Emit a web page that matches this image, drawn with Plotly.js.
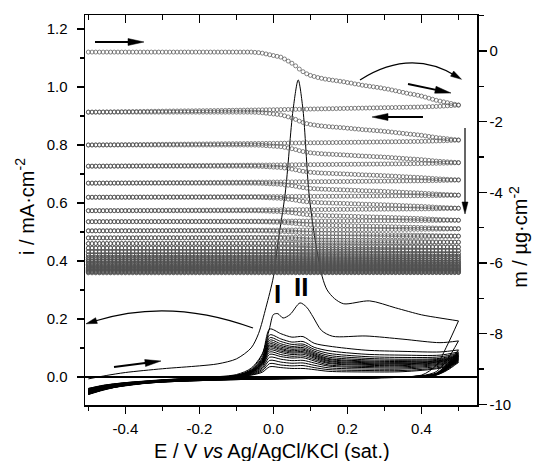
<!DOCTYPE html>
<html><head><meta charset="utf-8">
<script src="https://cdn.plot.ly/plotly-3.0.1.min.js"></script>
<style>html,body{margin:0;padding:0;background:#fff}</style>
</head><body><div id="chart" style="width:539px;height:461px"></div>
<script>
// ---------- mass (EQCM) data, right axis ----------
const massE = [
-0.50,-0.49,-0.48,-0.47,-0.46,-0.45,-0.44,-0.43,-0.42,-0.41,
-0.40,-0.39,-0.38,-0.37,-0.36,-0.35,-0.34,-0.33,-0.32,-0.31,
-0.30,-0.29,-0.28,-0.27,-0.26,-0.25,-0.24,-0.23,-0.22,-0.21,
-0.20,-0.19,-0.18,-0.17,-0.16,-0.15,-0.14,-0.13,-0.12,-0.11,
-0.10,-0.09,-0.08,-0.07,-0.06,-0.05,-0.04,-0.03,-0.02,-0.01,
0.00,0.01,0.02,0.03,0.04,0.05,0.06,0.07,0.08,0.09,
0.10,0.11,0.12,0.13,0.14,0.15,0.16,0.17,0.18,0.19,
0.20,0.21,0.22,0.23,0.24,0.25,0.26,0.27,0.28,0.29,
0.30,0.31,0.32,0.33,0.34,0.35,0.36,0.37,0.38,0.39,
0.40,0.41,0.42,0.43,0.44,0.45,0.46,0.47,0.48,0.49,
0.50];
// fraction of a cycle's forward-scan mass loss reached at each potential (read from the first cycle)
const massForwardShape = [
0,0,0,0,0,0,0,0,0,0,
0,0,0,0,0,0,0,0,0,0,
0,0,0,0,0,0,0,0,0,0,
0,0,0,0,0,0,0,0,0,0,
0,0,0,0,0,0.005,0.01,0.02,0.035,0.05,
0.065,0.08,0.095,0.13,0.17,0.21,0.26,0.32,0.37,0.41,
0.44,0.46,0.48,0.495,0.51,0.52,0.53,0.54,0.55,0.56,
0.575,0.585,0.60,0.61,0.625,0.635,0.645,0.655,0.665,0.675,
0.69,0.70,0.715,0.73,0.745,0.76,0.775,0.79,0.80,0.815,
0.83,0.85,0.87,0.89,0.91,0.925,0.94,0.955,0.97,0.985,
1.0];
// fraction of the reverse-scan mass loss reached at each potential (scan runs 0.5 -> -0.5)
const massReverseShape = [
1.0,0.993,0.986,0.979,0.972,0.965,0.958,0.951,0.944,0.937,
0.93,0.923,0.916,0.909,0.902,0.895,0.888,0.881,0.874,0.867,
0.86,0.854,0.848,0.842,0.836,0.83,0.824,0.818,0.812,0.806,
0.80,0.793,0.786,0.779,0.772,0.765,0.758,0.751,0.744,0.737,
0.73,0.723,0.716,0.709,0.702,0.695,0.688,0.681,0.674,0.667,
0.66,0.65,0.64,0.63,0.62,0.61,0.60,0.59,0.58,0.57,
0.56,0.552,0.544,0.536,0.528,0.52,0.51,0.50,0.49,0.48,
0.47,0.46,0.45,0.44,0.43,0.42,0.41,0.40,0.39,0.38,
0.37,0.36,0.35,0.34,0.33,0.32,0.31,0.30,0.29,0.28,
0.27,0.25,0.23,0.21,0.19,0.17,0.14,0.11,0.08,0.04,
0.0];
// mass at -0.5 V at the start of each cycle (ug cm-2)
const massCycleStart = [-0.03,-1.73,-2.66,-3.26,-3.74,-4.14,-4.52,-4.83,-5.09,-5.29,-5.45,-5.58,-5.68,-5.77,-5.84,-5.90,-5.95,-6.00,-6.04,-6.08,-6.12,-6.15,-6.18,-6.21,-6.24,-6.26,-6.28];
// mass at +0.5 V at the end of each forward scan
const massForwardEnd = [-1.53,-2.52,-3.16,-3.65,-4.08,-4.45,-4.79,-5.03,-5.24,-5.41,-5.55,-5.65,-5.74,-5.81,-5.87,-5.93,-5.98,-6.02,-6.06,-6.10,-6.13,-6.16,-6.19,-6.22,-6.25,-6.27];

// ---------- current (CV) data, left axis ----------
const cv1ForwardE = [-0.5,-0.45,-0.4,-0.3,-0.2,-0.15,-0.1,-0.06,-0.04,-0.02,0.0,0.013,0.032,0.053,0.067,0.08,0.096,0.113,0.132,0.145,0.165,0.19,0.26,0.33,0.4,0.45,0.5];
const cv1ForwardI = [-0.007,0.005,0.015,0.028,0.038,0.045,0.062,0.10,0.15,0.24,0.345,0.47,0.634,0.92,1.024,0.92,0.634,0.47,0.345,0.30,0.27,0.252,0.262,0.238,0.214,0.203,0.193];
const cv2ForwardE = [-0.5,-0.45,-0.4,-0.3,-0.2,-0.1,-0.06,-0.03,-0.01,0.0,0.012,0.026,0.045,0.072,0.09,0.107,0.13,0.16,0.25,0.35,0.45,0.5];
const cv2ForwardI = [-0.040,-0.028,-0.02,-0.01,-0.003,0.008,0.03,0.08,0.17,0.215,0.218,0.203,0.215,0.255,0.24,0.207,0.16,0.14,0.141,0.13,0.118,0.124];
const cvForwardE = [-0.5,-0.45,-0.4,-0.3,-0.2,-0.1,-0.06,-0.03,-0.01,0.02,0.05,0.08,0.11,0.15,0.25,0.35,0.45,0.5];
const cvForwardLater = [
[-0.042,-0.030,-0.021,-0.011,-0.004,0.005,0.026,0.076,0.165,0.149,0.137,0.139,0.116,0.106,0.092,0.088,0.086,0.093],
[-0.044,-0.031,-0.022,-0.011,-0.004,0.005,0.023,0.067,0.145,0.131,0.120,0.122,0.102,0.090,0.078,0.075,0.075,0.086],
[-0.046,-0.033,-0.024,-0.011,-0.004,0.005,0.022,0.062,0.135,0.122,0.112,0.113,0.095,0.081,0.070,0.067,0.069,0.082],
[-0.047,-0.034,-0.025,-0.012,-0.005,0.004,0.020,0.058,0.127,0.114,0.105,0.107,0.089,0.074,0.064,0.061,0.064,0.079],
[-0.049,-0.035,-0.025,-0.012,-0.005,0.004,0.019,0.055,0.120,0.108,0.100,0.101,0.084,0.068,0.059,0.057,0.061,0.076],
[-0.050,-0.035,-0.026,-0.012,-0.005,0.004,0.018,0.052,0.114,0.103,0.095,0.096,0.080,0.063,0.055,0.053,0.058,0.074],
[-0.051,-0.036,-0.026,-0.013,-0.005,0.004,0.017,0.050,0.109,0.098,0.090,0.092,0.076,0.060,0.052,0.050,0.056,0.072],
[-0.052,-0.037,-0.027,-0.013,-0.006,0.003,0.017,0.048,0.104,0.094,0.086,0.087,0.073,0.056,0.049,0.047,0.054,0.070],
[-0.053,-0.037,-0.027,-0.013,-0.006,0.003,0.016,0.046,0.099,0.089,0.082,0.083,0.069,0.053,0.046,0.045,0.052,0.068],
[-0.054,-0.038,-0.028,-0.014,-0.006,0.003,0.015,0.043,0.093,0.084,0.077,0.078,0.065,0.049,0.043,0.042,0.050,0.066],
[-0.055,-0.038,-0.028,-0.014,-0.006,0.003,0.014,0.040,0.086,0.077,0.071,0.072,0.060,0.046,0.040,0.039,0.047,0.064],
[-0.056,-0.039,-0.029,-0.014,-0.006,0.002,0.012,0.036,0.078,0.070,0.065,0.066,0.055,0.041,0.036,0.035,0.044,0.062],
[-0.057,-0.039,-0.029,-0.015,-0.007,0.002,0.011,0.031,0.068,0.061,0.056,0.057,0.048,0.037,0.032,0.031,0.041,0.060],
[-0.058,-0.040,-0.030,-0.015,-0.007,0.002,0.009,0.026,0.057,0.051,0.047,0.048,0.040,0.031,0.027,0.027,0.037,0.057],
[-0.059,-0.041,-0.030,-0.015,-0.007,0.002,0.007,0.021,0.046,0.041,0.038,0.039,0.032,0.025,0.022,0.022,0.033,0.054],
[-0.060,-0.041,-0.031,-0.016,-0.007,0.001,0.006,0.016,0.035,0.032,0.029,0.029,0.025,0.019,0.017,0.018,0.030,0.050]];
const cvReverseE = [0.5,0.47,0.44,0.4,0.3,0.15,0.0,-0.15,-0.3,-0.4,-0.46,-0.5];
const cvReverse = [
[0.193,0.110,0.040,0.006,0.000,-0.002,-0.003,-0.006,-0.012,-0.020,-0.029,-0.040],
[0.124,0.060,0.018,0.004,-0.001,-0.003,-0.004,-0.007,-0.013,-0.021,-0.030,-0.042],
[0.093,0.045,0.013,0.003,-0.001,-0.003,-0.004,-0.007,-0.013,-0.022,-0.032,-0.044],
[0.086,0.041,0.012,0.003,-0.001,-0.003,-0.004,-0.008,-0.014,-0.023,-0.034,-0.046],
[0.082,0.039,0.011,0.003,-0.001,-0.003,-0.005,-0.008,-0.014,-0.023,-0.035,-0.047],
[0.079,0.037,0.011,0.003,-0.002,-0.004,-0.005,-0.008,-0.014,-0.024,-0.036,-0.049],
[0.076,0.036,0.010,0.002,-0.002,-0.004,-0.005,-0.008,-0.015,-0.024,-0.037,-0.050],
[0.074,0.035,0.010,0.002,-0.002,-0.004,-0.005,-0.009,-0.015,-0.025,-0.038,-0.051],
[0.072,0.034,0.009,0.002,-0.002,-0.004,-0.006,-0.009,-0.015,-0.025,-0.038,-0.052],
[0.070,0.033,0.009,0.002,-0.002,-0.004,-0.006,-0.009,-0.016,-0.026,-0.039,-0.053],
[0.068,0.032,0.009,0.002,-0.002,-0.004,-0.006,-0.009,-0.016,-0.026,-0.040,-0.054],
[0.066,0.031,0.008,0.002,-0.002,-0.004,-0.006,-0.010,-0.016,-0.027,-0.041,-0.055],
[0.064,0.030,0.008,0.001,-0.002,-0.004,-0.006,-0.010,-0.017,-0.027,-0.042,-0.056],
[0.062,0.029,0.008,0.001,-0.002,-0.004,-0.006,-0.010,-0.017,-0.027,-0.043,-0.057],
[0.060,0.028,0.007,0.001,-0.002,-0.005,-0.007,-0.010,-0.017,-0.028,-0.043,-0.058],
[0.057,0.027,0.007,0.001,-0.002,-0.005,-0.007,-0.011,-0.018,-0.028,-0.044,-0.059],
[0.054,0.025,0.007,0.001,-0.003,-0.005,-0.007,-0.011,-0.018,-0.029,-0.045,-0.060],
[0.050,0.023,0.006,0.001,-0.003,-0.005,-0.007,-0.011,-0.018,-0.029,-0.046,-0.061]];

// ---------- axis ticks and texts ----------
const eTickVals = [-0.4,-0.2,0.0,0.2,0.4];
const iTickVals = [0.0,0.2,0.4,0.6,0.8,1.0,1.2];
const mTickVals = [-10,-8,-6,-4,-2,0];
const xTitle = 'E / V <i>vs</i> Ag/AgCl/KCl (sat.)';
const yTitle = 'i / mA·cm<sup>-2</sup>';
const y2Title = 'm / µg·cm<sup>-2</sup>';
const peakLabels = ['I', 'II'];

// ---------- build traces ----------
const traces = [];
const mx = [], my = [];
for (let k = 0; k < massForwardEnd.length; k++) {
  const s = massCycleStart[k], f = massForwardEnd[k], n = massCycleStart[k + 1];
  for (let j = 0; j < massE.length; j++) { mx.push(massE[j]); my.push(s - (s - f) * massForwardShape[j]); }
  for (let j = massE.length - 1; j >= 0; j--) { mx.push(massE[j]); my.push(f - (f - n) * massReverseShape[j]); }
}
traces.push({x: mx, y: my, xaxis: 'x2', yaxis: 'y2', mode: 'markers', type: 'scatter', hoverinfo: 'skip',
  marker: {symbol: 'circle-open', size: 4, color: '#505050', line: {width: 0.7, color: '#505050'}}});

const cvLine = {color: '#000', width: 1, shape: 'spline', smoothing: 0.8};
function addCV(x, y) { traces.push({x: x, y: y, mode: 'lines', type: 'scatter', line: cvLine, hoverinfo: 'skip'}); }
addCV(cv1ForwardE, cv1ForwardI);
addCV(cv2ForwardE, cv2ForwardI);
cvForwardLater.forEach(r => addCV(cvForwardE, r));
cvReverse.forEach(r => addCV(cvReverseE, r));

// ---------- decorations (arrows drawn as paper-space shapes) ----------
const M = {l: 85, r: 62, t: 15, b: 56}, W = 539, H = 461;
const pw = W - M.l - M.r, ph = H - M.t - M.b;
const px = v => ((v - M.l) / pw).toFixed(4);
const py = v => ((H - M.b - v) / ph).toFixed(4);
function headPath(tx, ty, hx, hy, len, half) {
  const d = Math.hypot(hx - tx, hy - ty), ux = (hx - tx) / d, uy = (hy - ty) / d;
  const bx = hx - len * ux, by = hy - len * uy;
  return 'M' + px(hx) + ',' + py(hy) + ' L' + px(bx - half * uy) + ',' + py(by + half * ux) +
         ' L' + px(bx + half * uy) + ',' + py(by - half * ux) + ' Z';
}
function straightArrow(tx, ty, hx, hy, w, len, half) {
  const d = Math.hypot(hx - tx, hy - ty);
  const ex = hx - (hx - tx) / d * (len - 2), ey = hy - (hy - ty) / d * (len - 2);
  return [
    {type: 'line', xref: 'paper', yref: 'paper', x0: px(tx), y0: py(ty), x1: px(ex), y1: py(ey), line: {color: '#000', width: w}},
    {type: 'path', xref: 'paper', yref: 'paper', path: headPath(tx, ty, hx, hy, len, half), fillcolor: '#000', line: {color: '#000', width: 0.5}}
  ];
}
function curvedArrow(x0, y0, cx, cy, x1, y1, w, len, half) {
  return [
    {type: 'path', xref: 'paper', yref: 'paper', path: 'M' + px(x0) + ',' + py(y0) + ' Q' + px(cx) + ',' + py(cy) + ' ' + px(x1) + ',' + py(y1), line: {color: '#000', width: w}},
    {type: 'path', xref: 'paper', yref: 'paper', path: headPath(cx + (x1 - cx) * 0.7, cy + (y1 - cy) * 0.7, x1 + (x1 - cx) * 0.12, y1 + (y1 - cy) * 0.12, len, half), fillcolor: '#000', line: {color: '#000', width: 0.5}}
  ];
}
const shapes = [].concat(
  straightArrow(95, 42, 144, 42, 2, 16, 3.5),
  straightArrow(408, 84, 451, 93, 2, 16, 3.5),
  straightArrow(423, 117, 372, 117, 2, 16, 3.5),
  straightArrow(465, 128, 465, 214, 1.2, 12, 3),
  straightArrow(114, 367, 161, 361, 2, 16, 3.5),
  curvedArrow(360, 80, 410, 48, 456, 76, 1.2, 11, 3),
  curvedArrow(253, 328, 170, 297.5, 95, 321, 1.2, 11, 3)
);

// ---------- layout ----------
const font = {family: 'Arial, "Liberation Sans", sans-serif', color: '#000'};
const xr = [-0.509, 0.55];
const axisCommon = {showline: true, linewidth: 1.5, linecolor: '#000', showgrid: false, zeroline: false, tickwidth: 1.5, tickcolor: '#000'};
const layout = {
  width: W, height: H, margin: M,
  paper_bgcolor: '#fff', plot_bgcolor: '#fff', showlegend: false, font: font,
  xaxis: Object.assign({}, axisCommon, {range: xr, tickvals: eTickVals, ticktext: eTickVals.map(v => v.toFixed(1)), ticks: 'outside', ticklen: 7,
    minor: {dtick: 0.1, tick0: 0, ticks: 'outside', ticklen: 4, tickwidth: 1.5, tickcolor: '#000', showgrid: false},
    tickfont: {size: 15}, ticklabelstandoff: 2}),
  xaxis2: Object.assign({}, axisCommon, {range: xr, overlaying: 'x', side: 'top', tickvals: eTickVals, ticks: 'inside', ticklen: 8,
    minor: {dtick: 0.1, tick0: 0, ticks: 'inside', ticklen: 5, tickwidth: 1.5, tickcolor: '#000', showgrid: false},
    showticklabels: false}),
  yaxis: Object.assign({}, axisCommon, {range: [-0.097, 1.248], tickvals: iTickVals, ticktext: iTickVals.map(v => v.toFixed(1)), ticks: 'outside', ticklen: 7,
    minor: {dtick: 0.1, tick0: 0, ticks: 'outside', ticklen: 4, tickwidth: 1.5, tickcolor: '#000', showgrid: false},
    zeroline: true, zerolinecolor: '#000', zerolinewidth: 1.8,
    tickfont: {size: 15}, ticklabelstandoff: 6}),
  yaxis2: Object.assign({}, axisCommon, {range: [-10.02, 1.02], overlaying: 'y', side: 'right', tickvals: mTickVals, ticktext: mTickVals.map(String), ticks: 'outside', ticklen: 8,
    minor: {dtick: 1, tick0: 0, ticks: 'outside', ticklen: 5, tickwidth: 1.5, tickcolor: '#000', showgrid: false},
    tickfont: {size: 15}}),
  shapes: shapes,
  annotations: [
    {xref: 'paper', yref: 'paper', x: 0.492, y: 0.242, text: '<b>' + peakLabels[0] + '</b>', showarrow: false, font: {size: 26, color: '#000'}},
    {xref: 'paper', yref: 'paper', x: 0.552, y: 0.258, text: '<b>' + peakLabels[1] + '</b>', showarrow: false, font: {size: 26, color: '#000'}},
    {xref: 'paper', yref: 'paper', x: 0.478, y: -0.118, text: xTitle, showarrow: false, font: {size: 20}, xanchor: 'center', yanchor: 'middle'},
    {xref: 'paper', yref: 'paper', x: -0.153, y: 0.508, text: yTitle, showarrow: false, font: {size: 20}, textangle: -90, xanchor: 'center', yanchor: 'middle'},
    {xref: 'paper', yref: 'paper', x: 1.107, y: 0.431, text: y2Title, showarrow: false, font: {size: 20}, textangle: -90, xanchor: 'center', yanchor: 'middle'}
  ]
};
Plotly.newPlot('chart', traces, layout, {staticPlot: true, displayModeBar: false});
</script></body></html>
